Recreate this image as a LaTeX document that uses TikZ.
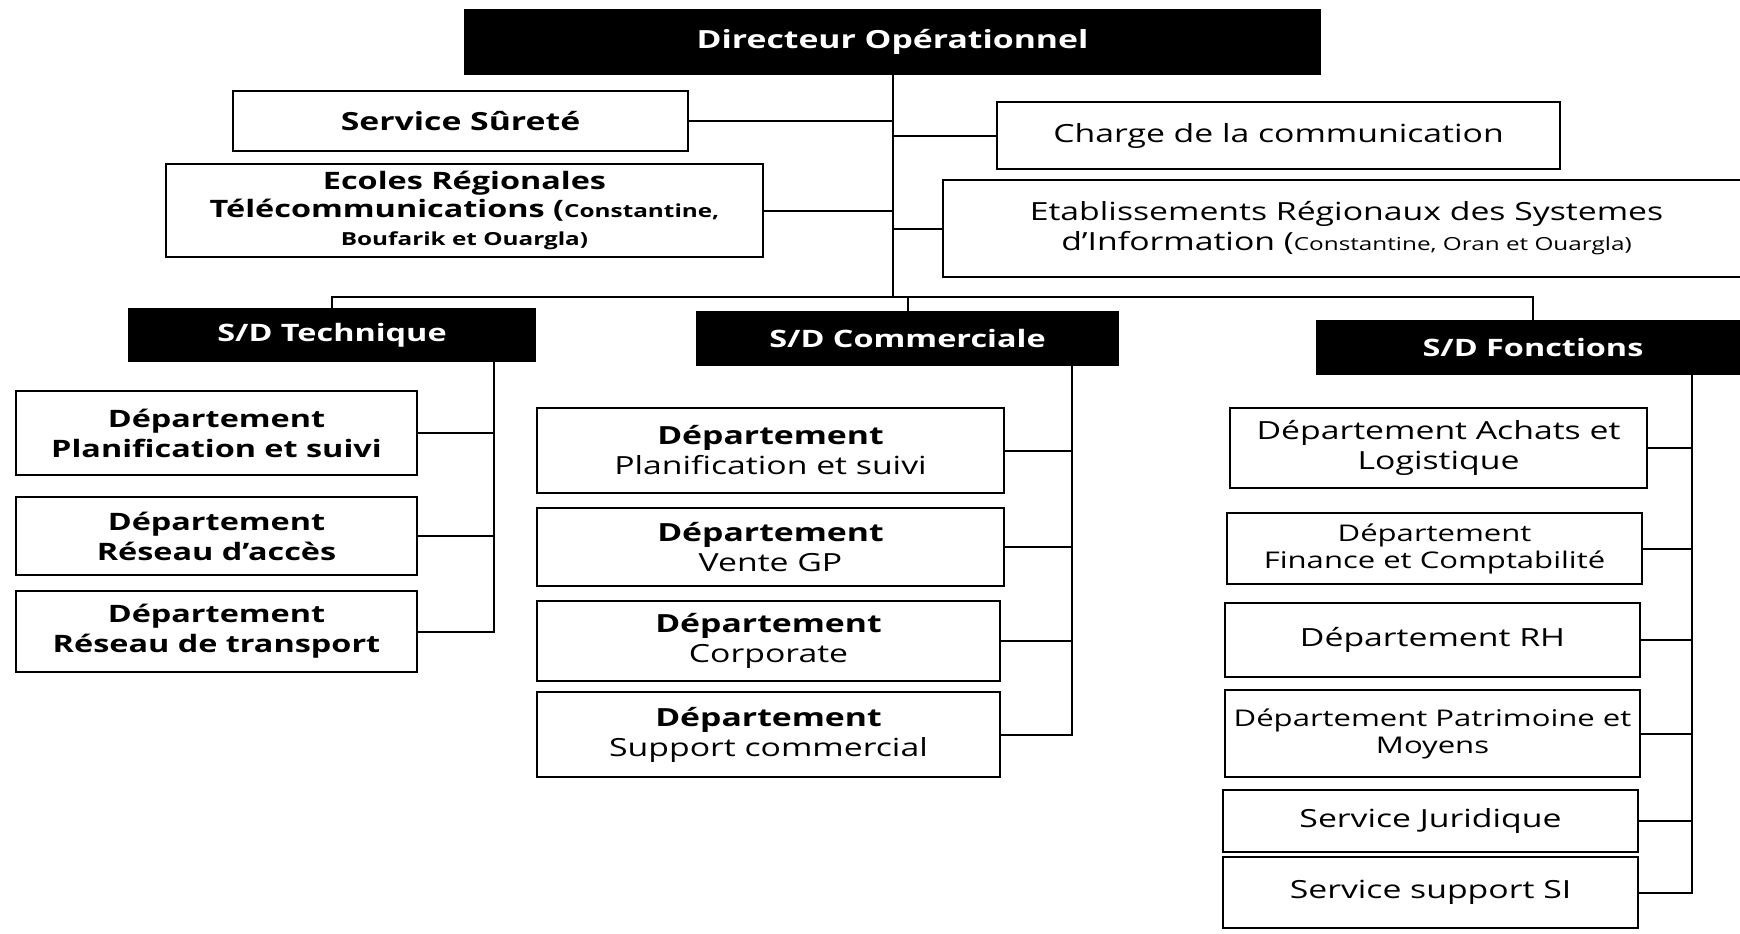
\documentclass[tikz,border=0pt]{standalone}
\usepackage{fontspec}
\setmainfont{Open Sans}[FakeStretch=1.35]
\newcommand{\smalltxt}{\fontsize{9}{11}\selectfont}
\begin{document}
\begin{tikzpicture}[x=0.5pt,y=-0.5pt,
  box/.style={draw=black, line width=1pt, fill=white, inner sep=0pt, align=center, font=\fontsize{12.5}{15}\selectfont},
  darkbox/.style={fill=black, text=white, inner sep=0pt, align=center, font=\bfseries\fontsize{12}{14}\selectfont},
  conn/.style={draw=black, line width=1pt}]
\useasboundingbox (0,0) rectangle (1740,933);
% top level
\node[darkbox, font=\bfseries\fontsize{12.5}{15}\selectfont, minimum width=428.5pt, minimum height=33pt] (dir) at (892.5,42) {Directeur Opérationnel};
\node[box, font=\bfseries\fontsize{12.5}{15}\selectfont, minimum width=227.5pt, minimum height=30pt] (surete) at (460.5,121) {Service Sûreté};
\node[box, font=\bfseries\fontsize{12}{14}\selectfont, minimum width=298.5pt, minimum height=46.5pt] (ecoles) at (464.5,210.5) {Ecoles Régionales\\Télécommunications ({\smalltxt Constantine,}\\{\smalltxt Boufarik et Ouargla)}};
\node[box, minimum width=281.5pt, minimum height=33.5pt] (charge) at (1278.5,135.5) {Charge de la communication};
\node[box, minimum width=403.5pt, minimum height=48.5pt] (etab) at (1346.5,228.5) {Etablissements Régionaux des Systemes\\d’Information ({\smalltxt Constantine, Oran et Ouargla)}};
% sub-directions
\node[darkbox, minimum width=204pt, minimum height=27pt] (tech) at (332,335) {S/D Technique};
\node[darkbox, minimum width=211.5pt, minimum height=27.5pt] (comm) at (907.5,338.5) {S/D Commerciale};
\node[darkbox, minimum width=217pt, minimum height=27.5pt] (fonc) at (1533,347.5) {S/D Fonctions};
% technique
\node[box, font=\bfseries\fontsize{12}{15}\selectfont, minimum width=200.5pt, minimum height=42pt] (t1) at (216.5,433) {Département\\Planification et suivi};
\node[box, font=\bfseries\fontsize{12}{15}\selectfont, minimum width=200.5pt, minimum height=39pt] (t2) at (216.5,536) {Département\\Réseau d’accès};
\node[box, font=\bfseries\fontsize{12}{15}\selectfont, minimum width=200.5pt, minimum height=40.5pt] (t3) at (216.5,631.5) {Département\\Réseau de transport};
% commerciale
\node[box, minimum width=233.5pt, minimum height=42.5pt] (c1) at (770.5,450.5) {\textbf{Département}\\Planification et suivi};
\node[box, minimum width=233.5pt, minimum height=39pt] (c2) at (770.5,547) {\textbf{Département}\\Vente GP};
\node[box, minimum width=231.5pt, minimum height=40pt] (c3) at (768.5,641) {\textbf{Département}\\Corporate};
\node[box, minimum width=231.5pt, minimum height=42.5pt] (c4) at (768.5,734.5) {\textbf{Département}\\Support commercial};
% fonctions
\node[box, minimum width=208.5pt, minimum height=40pt] (f1) at (1438.5,448) {Département Achats et\\Logistique};
\node[box, font=\fontsize{11.5}{13.5}\selectfont, minimum width=207.5pt, minimum height=35.5pt] (f2) at (1434.5,548.5) {Département\\Finance et Comptabilité};
\node[box, minimum width=207.5pt, minimum height=37pt] (f3) at (1432.5,640) {Département RH};
\node[box, font=\fontsize{11.5}{13.5}\selectfont, minimum width=207.5pt, minimum height=43.5pt] (f4) at (1432.5,733.5) {Département Patrimoine et\\Moyens};
\node[box, minimum width=207.5pt, minimum height=31pt] (f5) at (1430.5,821) {Service Juridique};
\node[box, minimum width=207.5pt, minimum height=35.5pt] (f6) at (1430.5,892.5) {Service support SI};
% connectors
\coordinate (busy) at (0,297);
\draw[conn] (dir.south) -- (dir.south |- busy);
\draw[conn] (surete.east) -- (surete.east -| dir.south);
\draw[conn] (ecoles.east) -- (ecoles.east -| dir.south);
\draw[conn] (charge.west) -- (charge.west -| dir.south);
\draw[conn] (etab.west) -- (etab.west -| dir.south);
\draw[conn] (tech.north) -- (tech.north |- busy) -- (fonc.north |- busy) -- (fonc.north);
\draw[conn] (comm.north) -- (comm.north |- busy);
\coordinate (tb) at (494,362);
\draw[conn] (tb) |- (t3.east);
\draw[conn] (t1.east) -- (t1.east -| tb);
\draw[conn] (t2.east) -- (t2.east -| tb);
\coordinate (cb) at (1072,366);
\draw[conn] (cb) |- (c4.east);
\draw[conn] (c1.east) -- (c1.east -| cb);
\draw[conn] (c2.east) -- (c2.east -| cb);
\draw[conn] (c3.east) -- (c3.east -| cb);
\coordinate (fb) at (1692,375);
\draw[conn] (fb) |- (f6.east);
\draw[conn] (f1.east) -- (f1.east -| fb);
\draw[conn] (f2.east) -- (f2.east -| fb);
\draw[conn] (f3.east) -- (f3.east -| fb);
\draw[conn] (f4.east) -- (f4.east -| fb);
\draw[conn] (f5.east) -- (f5.east -| fb);
\end{tikzpicture}
\end{document}
